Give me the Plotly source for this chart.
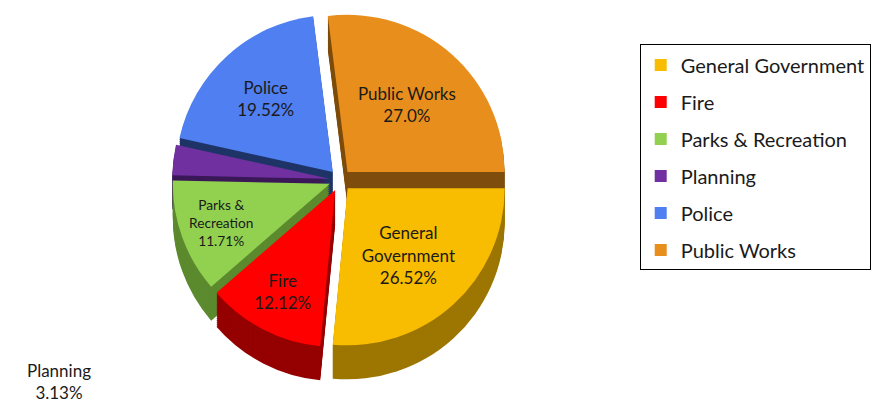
import plotly.graph_objects as go

labels = ["General Government", "Fire", "Parks & Recreation", "Planning", "Police", "Public Works"]
slice_text = ["General<br>Government", "Fire", "Parks &<br>Recreation", "Planning", "Police", "Public Works"]
values = [26.52, 12.12, 11.71, 3.13, 19.52, 27.0]
pct_text = ["26.52%", "12.12%", "11.71%", "3.13%", "19.52%", "27.0%"]
top_colors = ["#F8BC00", "#FF0000", "#92D050", "#7030A0", "#4F7FF0", "#E88E1C"]
side_colors = ["#9C7600", "#950000", "#5C8A2E", "#3A1858", "#1F3466", "#7E4C0C"]

FONT = "Lato"
pull = [0.07] * len(values)
base_y0, base_y1 = 0.16, 0.99
dom_x = [0.16, 0.59]
n_layers = 17
step = 2.0 / 405

fig = go.Figure()
# extruded side layers (drawn first, underneath)
for k in range(n_layers, 0, -1):
    off = k * step
    fig.add_trace(go.Pie(
        labels=labels, values=values, sort=False, direction="clockwise", rotation=90,
        pull=pull, marker=dict(colors=side_colors, line=dict(width=0)),
        textinfo="none", hoverinfo="skip", showlegend=False,
        domain=dict(x=dom_x, y=[base_y0 - off, base_y1 - off]),
    ))

texts = [f"{t}<br>{p}" for t, p in zip(slice_text, pct_text)]
positions = ["none" if l == "Planning" else "inside" for l in labels]
fig.add_trace(go.Pie(
    labels=labels, values=values, sort=False, direction="clockwise", rotation=90,
    pull=pull, marker=dict(colors=top_colors, line=dict(width=0)),
    text=texts, texttemplate="%{text}", textposition=positions,
    insidetextorientation="horizontal",
    textfont=dict(family=FONT, size=17, color="#1a1a1a"),
    showlegend=False,
    domain=dict(x=dom_x, y=[base_y0, base_y1]),
))

# legend entries
for lab, col in zip(labels, top_colors):
    fig.add_trace(go.Scatter(
        x=[None], y=[None], mode="markers", name=lab, legendgroup=lab,
        marker=dict(symbol="square", size=12, color=col),
    ))

i_plan = labels.index("Planning")
fig.add_annotation(
    x=0.057, y=0.02, xref="paper", yref="paper", xanchor="center", yanchor="bottom",
    text=f"{labels[i_plan]}<br>{pct_text[i_plan]}", showarrow=False,
    font=dict(family=FONT, size=17, color="#1a1a1a"), align="center",
)

fig.update_layout(
    width=886, height=405,
    margin=dict(l=0, r=0, t=0, b=0),
    paper_bgcolor="white", plot_bgcolor="white",
    xaxis=dict(visible=False), yaxis=dict(visible=False),
    font=dict(family=FONT, size=20, color="#1a1a1a"),
    legend=dict(
        x=0.713, y=0.91, xanchor="left", yanchor="top",
        bordercolor="black", borderwidth=1, bgcolor="white",
        tracegroupgap=8, itemsizing="constant",
        font=dict(family=FONT, size=20, color="#1a1a1a"),
    ),
)

fig.write_html("out.html")
